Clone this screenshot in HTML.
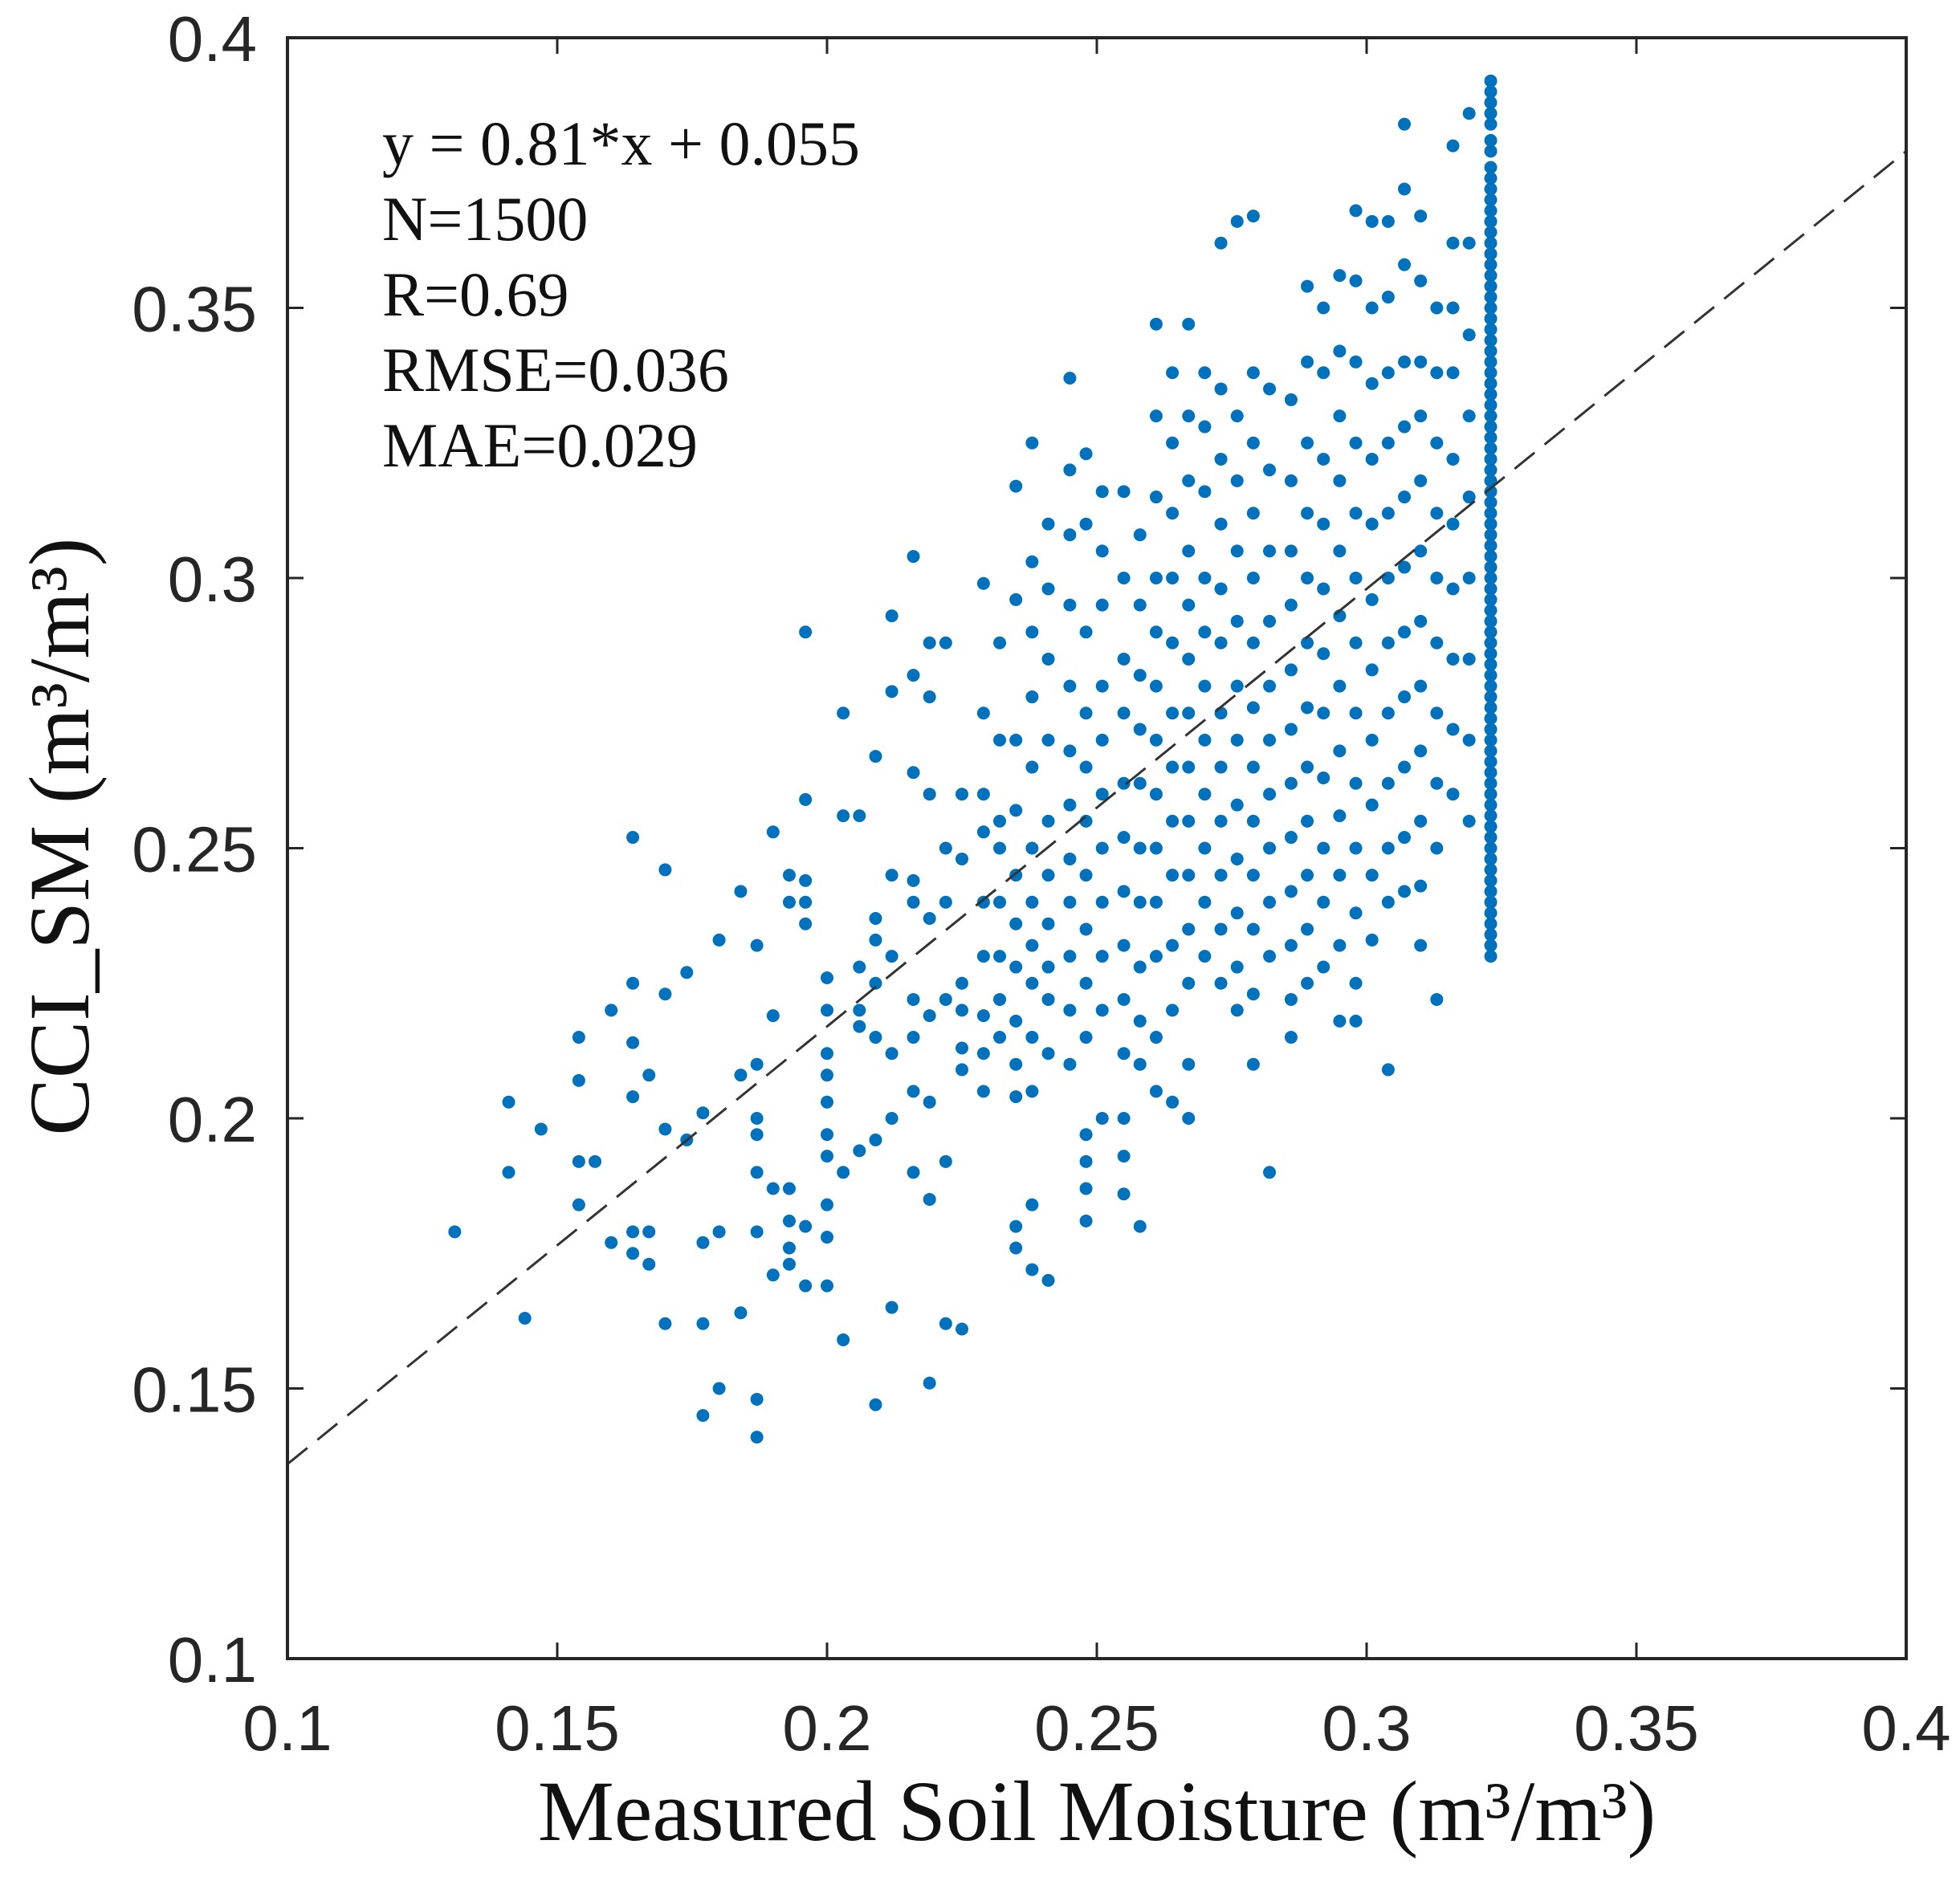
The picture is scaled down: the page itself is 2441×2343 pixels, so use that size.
<!DOCTYPE html>
<html><head><meta charset="utf-8">
<style>
html,body{margin:0;padding:0;background:#fff;}
svg{display:block;}
</style></head>
<body>
<svg id="chart" width="2441" height="2343" viewBox="0 0 2441 2343" xmlns="http://www.w3.org/2000/svg">
  <rect x="0" y="0" width="2441" height="2343" fill="#fff"/>
  <g id="points"></g>
  <g id="axes"></g>
  <g font-family="'Liberation Serif', serif" font-size="78" fill="#111">
    <text x="476" y="205">y = 0.81*x + 0.055</text>
    <text x="476" y="299">N=1500</text>
    <text x="476" y="393">R=0.69</text>
    <text x="476" y="487">RMSE=0.036</text>
    <text x="476" y="581">MAE=0.029</text>
  </g>
  <text x="1366" y="2292" text-anchor="middle" font-family="'Liberation Serif', serif" font-size="107" fill="#111">Measured Soil Moisture (m³/m³)</text>
  <text transform="translate(110,1042) rotate(-90)" text-anchor="middle" font-family="'Liberation Serif', serif" font-size="107" fill="#111">CCI_SM (m³/m³)</text>
</svg>
<script>
const xTicks = [0.1, 0.15, 0.2, 0.25, 0.3, 0.35, 0.4];
const yTicks = [0.1, 0.15, 0.2, 0.25, 0.3, 0.35, 0.4];
const xTickLabels = ["0.1","0.15","0.2","0.25","0.3","0.35","0.4"];
const yTickLabels = ["0.1","0.15","0.2","0.25","0.3","0.35","0.4"];
const fitSlope = 0.81;
const fitIntercept = 0.055;
const colX = [0.131,0.141,0.144,0.147,0.154,0.157,0.160,0.164,0.167,0.170,0.174,0.177,0.180,0.184,0.187,0.190,0.193,0.196,0.200,0.203,0.206,0.209,0.212,0.216,0.219,0.222,0.225,0.229,0.232,0.235,0.238,0.241,0.245,0.248,0.251,0.255,0.258,0.261,0.264,0.267,0.270,0.273,0.276,0.279,0.282,0.286,0.289,0.292,0.295,0.298,0.301,0.304,0.307,0.310,0.313,0.316,0.319];
const colY = [
[0.179],[0.203,0.190],[0.163],[0.198],[0.215,0.207,0.192,0.184],[0.192],[0.220,0.177],
[0.252,0.225,0.214,0.204,0.179,0.175],[0.208,0.179,0.173],[0.246,0.223,0.198,0.162],[0.227,0.196],
[0.201,0.177,0.162,0.145],[0.233,0.179,0.150],[0.242,0.208,0.164],
[0.232,0.210,0.200,0.197,0.190,0.179,0.148,0.141],[0.253,0.219,0.187,0.171],
[0.245,0.240,0.187,0.181,0.176,0.173],[0.290,0.259,0.244,0.240,0.236,0.180,0.169],
[0.226,0.220,0.212,0.208,0.203,0.197,0.193,0.184,0.178,0.169],[0.275,0.256,0.190,0.159],
[0.256,0.228,0.220,0.217,0.194],[0.267,0.237,0.233,0.225,0.215,0.196,0.147],
[0.293,0.279,0.245,0.230,0.212,0.200,0.165],[0.304,0.282,0.264,0.244,0.240,0.222,0.215,0.205,0.190],
[0.288,0.278,0.260,0.237,0.219,0.203,0.185,0.151],[0.288,0.250,0.240,0.222,0.192,0.162],
[0.260,0.248,0.225,0.220,0.213,0.209,0.161],[0.299,0.275,0.260,0.253,0.240,0.230,0.219,0.212,0.205],
[0.288,0.270,0.255,0.250,0.240,0.230,0.222,0.215],
[0.317,0.296,0.270,0.257,0.245,0.236,0.228,0.218,0.210,0.204,0.180,0.176],
[0.325,0.303,0.290,0.278,0.265,0.250,0.240,0.232,0.225,0.215,0.205,0.184,0.172],
[0.310,0.298,0.285,0.270,0.255,0.245,0.236,0.228,0.222,0.212,0.170],
[0.337,0.320,0.308,0.295,0.280,0.268,0.258,0.248,0.240,0.230,0.220,0.210],
[0.323,0.310,0.290,0.275,0.265,0.255,0.245,0.235,0.225,0.215,0.197,0.192,0.187,0.181],
[0.316,0.305,0.295,0.280,0.270,0.260,0.250,0.240,0.230,0.220,0.200],
[0.316,0.300,0.285,0.275,0.262,0.252,0.242,0.232,0.222,0.212,0.200,0.193,0.186],
[0.308,0.295,0.282,0.272,0.262,0.250,0.240,0.228,0.218,0.210,0.180],
[0.347,0.330,0.315,0.300,0.290,0.280,0.270,0.260,0.250,0.240,0.230,0.215,0.205],
[0.338,0.325,0.312,0.300,0.288,0.275,0.265,0.255,0.245,0.232,0.220,0.203],
[0.347,0.330,0.318,0.305,0.295,0.285,0.275,0.265,0.255,0.245,0.235,0.225,0.210,0.200],
[0.338,0.328,0.316,0.300,0.290,0.280,0.270,0.260,0.250,0.240,0.230],
[0.362,0.335,0.322,0.310,0.298,0.288,0.275,0.265,0.255,0.245,0.235,0.225],
[0.366,0.330,0.318,0.305,0.292,0.280,0.270,0.258,0.248,0.238,0.228,0.220],
[0.367,0.338,0.325,0.312,0.300,0.288,0.276,0.265,0.255,0.245,0.235,0.223,0.210],
[0.335,0.320,0.305,0.292,0.280,0.270,0.260,0.250,0.240,0.230,0.190],
[0.333,0.318,0.305,0.295,0.283,0.272,0.262,0.252,0.242,0.232,0.222,0.215],
[0.354,0.340,0.325,0.312,0.300,0.288,0.276,0.265,0.255,0.245,0.235,0.225],
[0.350,0.338,0.322,0.310,0.298,0.286,0.275,0.263,0.250,0.240,0.228],
[0.356,0.342,0.330,0.318,0.305,0.293,0.280,0.268,0.256,0.245,0.232,0.218],
[0.368,0.355,0.340,0.325,0.312,0.300,0.288,0.275,0.262,0.250,0.238,0.225,0.218],
[0.366,0.350,0.336,0.322,0.310,0.296,0.283,0.270,0.258,0.245,0.233],
[0.366,0.352,0.338,0.325,0.312,0.300,0.288,0.275,0.262,0.250,0.240,0.209],
[0.384,0.372,0.358,0.340,0.328,0.315,0.302,0.290,0.278,0.265,0.252,0.242],
[0.367,0.355,0.340,0.330,0.318,0.305,0.292,0.280,0.268,0.255,0.243,0.232],
[0.350,0.338,0.325,0.312,0.300,0.288,0.275,0.262,0.250,0.222],
[0.380,0.362,0.350,0.338,0.322,0.310,0.298,0.285,0.272,0.260],
[0.386,0.362,0.345,0.330,0.315,0.300,0.285,0.270,0.255]
];
const denseX = 0.323;
const denseY = [0.392,0.390,0.388,0.386,0.384,0.381,0.379,0.376,0.374,0.372,0.370,0.368,0.366,0.364,0.362,0.360,0.358,0.356,0.354,0.352,0.350,0.348,0.346,0.344,0.342,0.340,0.338,0.336,0.334,0.332,0.330,0.328,0.326,0.324,0.322,0.320,0.318,0.316,0.314,0.312,0.310,0.308,0.306,0.304,0.302,0.300,0.298,0.296,0.294,0.292,0.290,0.288,0.286,0.284,0.282,0.280,0.278,0.276,0.274,0.272,0.270,0.268,0.266,0.264,0.262,0.260,0.258,0.256,0.254,0.252,0.250,0.248,0.246,0.244,0.242,0.240,0.238,0.236,0.234,0.232,0.230];

const L=358,R=2374,T=47,B=2066;
const sx=v=>L+(v-0.1)/0.3*(R-L);
const sy=v=>B-(v-0.1)/0.3*(B-T);
const NS="http://www.w3.org/2000/svg";
const pts=document.getElementById('points');
function dot(x,y){
  const c=document.createElementNS(NS,'circle');
  c.setAttribute('cx',sx(x));c.setAttribute('cy',sy(y));c.setAttribute('r',8);
  c.setAttribute('fill','#0072BD');
  
  
  pts.appendChild(c);
}
colX.forEach((x,i)=>colY[i].forEach(y=>dot(x,y)));
denseY.forEach(y=>dot(denseX,y));

const ax=document.getElementById('axes');
const fit=document.createElementNS(NS,'line');
fit.setAttribute('x1',sx(0.1));fit.setAttribute('y1',sy(fitSlope*0.1+fitIntercept));
fit.setAttribute('x2',sx(0.4));fit.setAttribute('y2',sy(fitSlope*0.4+fitIntercept));
fit.setAttribute('stroke','#333');fit.setAttribute('stroke-width','3');fit.setAttribute('stroke-dasharray','32 16');


ax.appendChild(fit);
const box=document.createElementNS(NS,'rect');
box.setAttribute('x',L);box.setAttribute('y',T);box.setAttribute('width',R-L);box.setAttribute('height',B-T);
box.setAttribute('fill','none');box.setAttribute('stroke','#262626');box.setAttribute('stroke-width','4');


ax.appendChild(box);
function ln(x1,y1,x2,y2,name){
  const l=document.createElementNS(NS,'line');
  l.setAttribute('x1',x1);l.setAttribute('y1',y1);l.setAttribute('x2',x2);l.setAttribute('y2',y2);
  l.setAttribute('stroke','#262626');l.setAttribute('stroke-width','3');
  
  
  ax.appendChild(l);
}
function txt(x,y,s,anchor,name){
  const t=document.createElementNS(NS,'text');
  t.setAttribute('x',x);t.setAttribute('y',y);t.setAttribute('text-anchor',anchor);
  t.setAttribute('font-family',"'Liberation Sans', sans-serif");t.setAttribute('font-size','80');t.setAttribute('fill','#262626');
  t.textContent=s;
  
  
  ax.appendChild(t);
}
xTicks.forEach((v,i)=>{
  const x=sx(v);
  ln(x,B,x,B-20,'x-tick');ln(x,T,x,T+20,'x-tick-top');
  txt(x,B+114,xTickLabels[i],'middle','x-tick-label');
});
yTicks.forEach((v,i)=>{
  const y=sy(v);
  ln(L,y,L+20,y,'y-tick');ln(R,y,R-20,y,'y-tick-right');
  txt(L-38,y+29,yTickLabels[i],'end','y-tick-label');
});
</script>
</body></html>
